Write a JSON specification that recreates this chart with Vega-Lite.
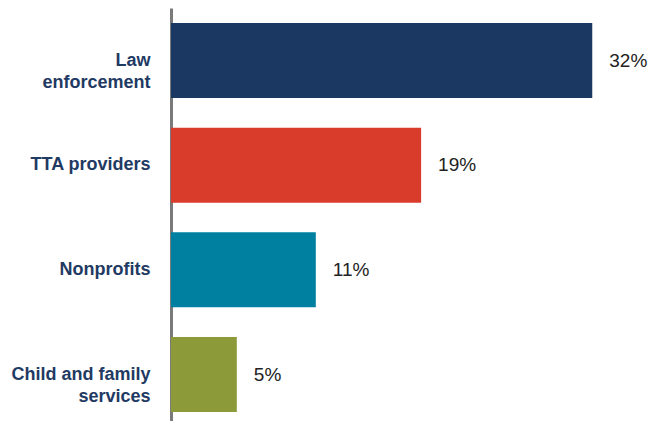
{
  "$schema": "https://vega.github.io/schema/vega-lite/v6.json",
  "width": 493,
  "height": 413,
  "autosize": "none",
  "padding": {"left": 171, "top": 8, "right": 2, "bottom": 0},
  "background": "white",
  "config": {"view": {"stroke": null}, "font": "Liberation Sans"},
  "data": {
    "values": [
      {"category": "Law enforcement", "pct": 0.32},
      {"category": "TTA providers", "pct": 0.19},
      {"category": "Nonprofits", "pct": 0.11},
      {"category": "Child and family services", "pct": 0.05}
    ]
  },
  "encoding": {
    "y": {
      "field": "category",
      "type": "nominal",
      "sort": null,
      "scale": {"paddingInner": 0.284, "paddingOuter": 0.115, "align": 0.625},
      "axis": {
        "title": null,
        "ticks": false,
        "labelPadding": 21,
        "labelFont": "Liberation Sans",
        "labelFontWeight": "bold",
        "labelFontSize": 18,
        "labelColor": "#1f3a63",
        "labelLineHeight": 22,
        "labelLimit": 200,
        "labelExpr": "datum.value == 'Law enforcement' ? ['Law', 'enforcement'] : datum.value == 'Child and family services' ? ['Child and family', 'services'] : datum.value",
        "domainColor": "#7a7a7a",
        "domainWidth": 3,
        "grid": false
      }
    },
    "x": {
      "field": "pct",
      "type": "quantitative",
      "scale": {"domain": [0, 0.3745], "nice": false},
      "axis": null
    }
  },
  "layer": [
    {
      "mark": {"type": "bar"},
      "encoding": {
        "color": {
          "field": "category",
          "type": "nominal",
          "legend": null,
          "scale": {
            "domain": ["Law enforcement", "TTA providers", "Nonprofits", "Child and family services"],
            "range": ["#1b3862", "#d93c2a", "#0080a0", "#8c9a3a"]
          }
        }
      }
    },
    {
      "mark": {"type": "text", "align": "left", "baseline": "middle", "dx": 17, "fontSize": 19, "color": "#222222", "font": "Liberation Sans"},
      "encoding": {
        "text": {"field": "pct", "type": "quantitative", "format": ".0%"}
      }
    }
  ]
}
